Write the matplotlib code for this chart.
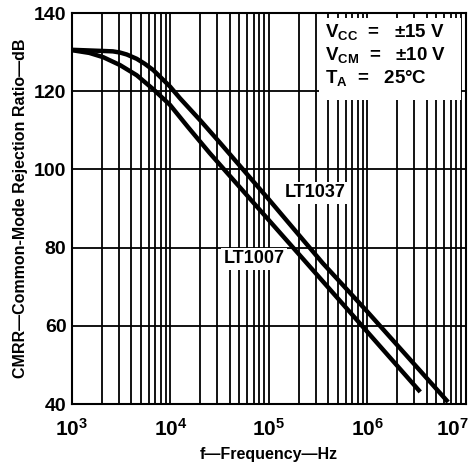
import numpy as np
import matplotlib
matplotlib.use('Agg')
from matplotlib import pyplot as plt
from matplotlib.ticker import LogLocator, FixedLocator, NullFormatter
from matplotlib.patches import Rectangle
from matplotlib.transforms import ScaledTranslation

plt.rcParams['font.family'] = ['Liberation Sans', 'DejaVu Sans']
plt.rcParams['font.weight'] = 'bold'
plt.rcParams['mathtext.fontset'] = 'custom'
plt.rcParams['mathtext.rm'] = 'Liberation Sans:bold'
plt.rcParams['mathtext.bf'] = 'Liberation Sans:bold'
plt.rcParams['mathtext.it'] = 'Liberation Sans:bold'

# curves (Hz, dB)
f_lt1037 = [1e3, 2.08e3, 2.6e3, 3.07e3, 3.6e3, 4.54e3, 5.5e3, 6.7e3, 8e3, 9.9e3,
            1.25e4, 2e4, 3.19e4, 1e5, 3.5e5, 1e6, 6.6e6]
cmrr_lt1037 = [130.6, 130.3, 130.2, 129.9, 129.4, 128.3, 127.0, 125.4, 123.5, 121.2,
               118.2, 112.6, 106.8, 92.3, 76.1, 63.6, 40.5]

f_lt1007 = [1e3, 1.5e3, 2.08e3, 3.07e3, 4.54e3, 6.7e3, 9.9e3, 1.5e4, 2.5e4,
            3.3e5, 3.44e6]
cmrr_lt1007 = [130.5, 129.8, 128.7, 126.7, 124.1, 120.5, 116.5, 110.9, 104.2,
               72.2, 43.1]

x_ticks = [1e3, 1e4, 1e5, 1e6, 1e7]
x_labels = ['$10^3$', '$10^4$', '$10^5$', '$10^6$', '$10^7$']
y_ticks = [40, 60, 80, 100, 120, 140]

fig = plt.figure(figsize=(4.72, 4.66), dpi=100)
ax = fig.add_axes([0.1525, 0.133, 0.8345, 0.839])

ax.set_xscale('log')
ax.set_xlim(1e3, 1e7)
ax.set_ylim(40, 140)

ax.xaxis.set_major_locator(FixedLocator(x_ticks))
ax.xaxis.set_minor_locator(LogLocator(base=10, subs=np.arange(2, 10)))
ax.xaxis.set_minor_formatter(NullFormatter())
ax.set_xticks(x_ticks)
ax.set_xticklabels(x_labels, fontsize=15)
ax.set_yticks(y_ticks)
ax.set_yticklabels([str(v) for v in y_ticks], fontsize=14, fontweight='bold')
ax.tick_params(which='both', length=0)
ax.tick_params(axis='y', pad=4)
ax.tick_params(axis='x', pad=10)
# last label sits at the edge, nudge it in
last = ax.get_xticklabels()[-1]
last.set_transform(last.get_transform() + ScaledTranslation(-13 / 100, 0, fig.dpi_scale_trans))

ax.grid(True, which='both', axis='x', color='black', linewidth=1.3)
ax.grid(True, which='major', axis='y', color='black', linewidth=1.3)
for s in ax.spines.values():
    s.set_linewidth(1.5)

ax.plot(f_lt1037, cmrr_lt1037, color='black', linewidth=3.2, solid_capstyle='butt', zorder=4)
ax.plot(f_lt1007, cmrr_lt1007, color='black', linewidth=3.2, solid_capstyle='butt', zorder=4)

# white area behind the conditions text
ax.add_patch(Rectangle((0.628, 0.777), 0.36, 0.21, transform=ax.transAxes,
                       facecolor='white', edgecolor='none', zorder=3))
cond = [r'V$_{CC}$  =   ±15 V', r'V$_{CM}$  =   ±10 V', r'T$_A$  =   25°C']
for i, t in enumerate(cond):
    ax.text(0.642, 0.939 - i * 0.059, t, transform=ax.transAxes, fontsize=13.5,
            fontweight='bold', va='baseline', ha='left', zorder=5)

ax.text(2.95e5, 94, 'LT1037', fontsize=13, fontweight='bold', ha='center', va='center',
        zorder=5, bbox=dict(facecolor='white', edgecolor='none', pad=1.5))
ax.text(7.07e4, 77.1, 'LT1007', fontsize=13, fontweight='bold', ha='center', va='center',
        zorder=5, bbox=dict(facecolor='white', edgecolor='none', pad=1.5))

ax.set_xlabel('f—Frequency—Hz', fontsize=11.5, fontweight='bold', labelpad=5)
ax.set_ylabel('CMRR—Common-Mode Rejection Ratio—dB', fontsize=11.5, fontweight='bold', labelpad=4)

fig.savefig('out.png', dpi=100)
